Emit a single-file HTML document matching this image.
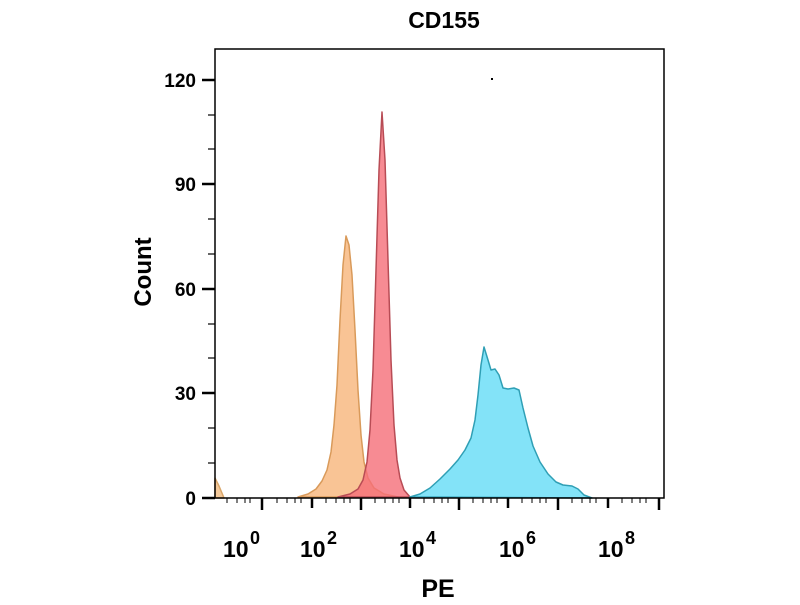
<!DOCTYPE html>
<html><head><style>body{margin:0;background:#fff}</style></head><body>
<svg width="800" height="600" xmlns="http://www.w3.org/2000/svg" font-family="Liberation Sans, Arial, sans-serif" font-weight="bold">
<text x="444" y="28" font-size="23" text-anchor="middle">CD155</text>
<g stroke-width="1.5" stroke-linejoin="round">
<path d="M215,498 L215,478 L219,486 L224,498 Z" fill="#f4c99a" stroke="#d9a66a"/>
<path d="M298,497 L308,494 L316,489 L322,481 L327,470 L331,452 L334,425 L337,385 L340,320 L343,265 L346,236 L349,245 L352,275 L355,330 L358,390 L361,435 L364,462 L368,478 L374,488 L384,494 L398,497 Z" fill="#f7b57a" fill-opacity="0.8" stroke="#d99a5a"/>
<path d="M338,497 L350,494 L358,489 L363,480 L367,462 L370,430 L373,370 L376,270 L379,170 L382,112 L385,160 L388,260 L391,360 L394,425 L397,460 L400,478 L404,490 L410,497 Z" fill="#f56e78" fill-opacity="0.8" stroke="#b84c55"/>
<path d="M410,497 L420,494 L430,488 L440,479 L450,469 L458,460 L465,450 L471,438 L475,420 L478,395 L481,365 L484,347 L488,360 L491,370 L495,369 L499,375 L503,388 L508,389 L514,388 L519,390 L523,408 L528,428 L533,446 L540,462 L548,474 L556,482 L563,485 L572,486 L578,489 L584,495 L592,498 Z" fill="#64dcf6" fill-opacity="0.8" stroke="#2f9fb5"/>
</g>
<rect x="215" y="49" width="449" height="449" fill="none" stroke="#000" stroke-width="1.5"/>
<g stroke="#000" stroke-width="2.5">
<line x1="202" y1="80" x2="215" y2="80"/><line x1="202" y1="184" x2="215" y2="184"/>
<line x1="202" y1="289" x2="215" y2="289"/><line x1="202" y1="393" x2="215" y2="393"/>
<line x1="202" y1="498" x2="215" y2="498"/>
</g>
<g stroke="#000" stroke-width="1.2">
<line x1="208" y1="115" x2="215" y2="115"/><line x1="208" y1="149" x2="215" y2="149"/>
<line x1="208" y1="219" x2="215" y2="219"/><line x1="208" y1="254" x2="215" y2="254"/>
<line x1="208" y1="324" x2="215" y2="324"/><line x1="208" y1="358" x2="215" y2="358"/>
<line x1="208" y1="428" x2="215" y2="428"/><line x1="208" y1="463" x2="215" y2="463"/>
</g>
<g font-size="19" text-anchor="end">
<text x="196" y="87">120</text><text x="196" y="191">90</text>
<text x="196" y="296">60</text><text x="196" y="400">30</text><text x="196" y="505">0</text>
</g>
<g stroke="#000" stroke-width="2.5">
<line x1="262" y1="498" x2="262" y2="510"/><line x1="361" y1="498" x2="361" y2="510"/>
<line x1="459" y1="498" x2="459" y2="510"/><line x1="558" y1="498" x2="558" y2="510"/>
<line x1="659" y1="498" x2="659" y2="510"/>
<line x1="312" y1="498" x2="312" y2="508"/><line x1="410" y1="498" x2="410" y2="508"/>
<line x1="508" y1="498" x2="508" y2="508"/><line x1="608" y1="498" x2="608" y2="508"/>
</g>
<g stroke="#000" stroke-width="1">
<path d="M227,498v5M237,498v5M245,498v5M250,498v5M277,498v5M287,498v5M295,498v5M301,498v5M326,498v5M336,498v5M344,498v5M350,498v5M375,498v5M385,498v5M393,498v5M399,498v5M424,498v5M434,498v5M442,498v5M448,498v5M473,498v5M483,498v5M491,498v5M497,498v5M522,498v5M532,498v5M540,498v5M546,498v5M572,498v5M582,498v5M590,498v5M596,498v5M622,498v5M632,498v5M640,498v5M646,498v5"/>
</g>
<g font-size="23">
<text x="223" y="557">10</text><text x="250" y="544" font-size="18">0</text>
<text x="300" y="557">10</text><text x="327" y="544" font-size="18">2</text>
<text x="399" y="557">10</text><text x="426" y="544" font-size="18">4</text>
<text x="499" y="557">10</text><text x="526" y="544" font-size="18">6</text>
<text x="598" y="557">10</text><text x="625" y="544" font-size="18">8</text>
</g>
<text x="438" y="597" font-size="25" text-anchor="middle">PE</text>
<text transform="translate(151,272) rotate(-90)" font-size="24" text-anchor="middle">Count</text>
<rect x="491" y="78" width="2" height="2" fill="#000"/>
</svg>
</body></html>
